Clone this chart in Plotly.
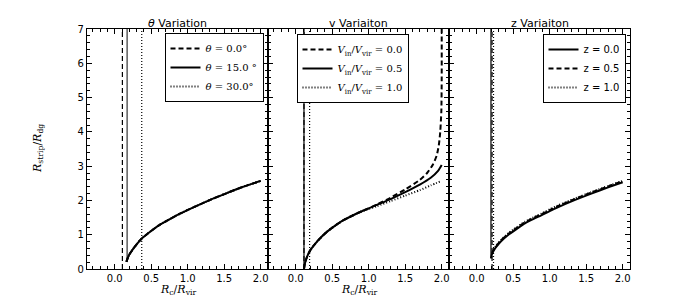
import plotly.graph_objects as go

# ---------------- data ----------------
# Panel 1: theta variation
theta_labels = ["<i>θ</i> = 0.0°", "<i>θ</i> = 15.0 °", "<i>θ</i> = 30.0°"]
theta_vline_x = [0.105, 0.17, 0.37]
theta_vline_bottom = [0.0, 0.21, 0.0]
theta_curve_x = [0.16, 0.18, 0.2, 0.25, 0.3, 0.37, 0.45, 0.53, 0.61, 0.75, 0.9, 1.07, 1.3, 1.52, 1.75, 2.0]
theta_curve_y = [0.21, 0.33, 0.42, 0.58, 0.72, 0.89, 1.03, 1.16, 1.28, 1.45, 1.62, 1.79, 2.01, 2.2, 2.39, 2.57]

# Panel 2: velocity variation
v_labels = ["<i>V</i><sub>in</sub>/<i>V</i><sub>vir</sub> = 0.0",
            "<i>V</i><sub>in</sub>/<i>V</i><sub>vir</sub> = 0.5",
            "<i>V</i><sub>in</sub>/<i>V</i><sub>vir</sub> = 1.0"]
v_vline_x = [0.113, 0.113, 0.19]
v0_x = [0.113, 0.13, 0.16, 0.2, 0.3, 0.43, 0.55, 0.66, 0.78, 0.89, 1.0, 1.11, 1.3, 1.5, 1.7, 1.8, 1.88, 1.93, 1.96, 1.98, 1.995, 2.0, 2.0]
v0_y = [0.0, 0.2, 0.38, 0.55, 0.82, 1.09, 1.28, 1.43, 1.56, 1.67, 1.77, 1.88, 2.08, 2.32, 2.6, 2.8, 3.05, 3.3, 3.6, 4.0, 4.6, 5.5, 7.2]
v05_x = [0.113, 0.13, 0.16, 0.2, 0.3, 0.43, 0.55, 0.66, 0.78, 0.89, 1.0, 1.11, 1.3, 1.5, 1.7, 1.85, 1.95, 2.0]
v05_y = [0.0, 0.2, 0.38, 0.55, 0.82, 1.09, 1.28, 1.43, 1.56, 1.67, 1.77, 1.87, 2.04, 2.24, 2.46, 2.66, 2.86, 3.03]
v1_x = [0.19, 0.2, 0.3, 0.43, 0.55, 0.66, 0.78, 0.89, 1.0, 1.11, 1.3, 1.5, 1.7, 1.85, 2.0]
v1_y = [0.5, 0.55, 0.82, 1.09, 1.28, 1.43, 1.56, 1.67, 1.75, 1.83, 1.98, 2.14, 2.3, 2.44, 2.57]

# Panel 3: redshift variation
z_labels = ["z = 0.0", "z = 0.5", "z = 1.0"]
z_vline_x = [0.195, 0.21, 0.23]
z0_x = [0.195, 0.21, 0.24, 0.27, 0.33, 0.43, 0.55, 0.66, 0.78, 0.89, 1.0, 1.11, 1.34, 1.57, 1.8, 2.0]
z0_y = [0.31, 0.44, 0.56, 0.65, 0.8, 0.99, 1.17, 1.33, 1.46, 1.57, 1.69, 1.8, 2.01, 2.2, 2.38, 2.53]
z05_x = [0.21, 0.24, 0.27, 0.33, 0.43, 0.55, 0.66, 0.78, 0.89, 1.0, 1.11, 1.34, 1.57, 1.8, 2.0]
z05_y = [0.47, 0.59, 0.68, 0.83, 1.02, 1.2, 1.36, 1.49, 1.6, 1.72, 1.83, 2.04, 2.23, 2.41, 2.56]
z1_x = [0.23, 0.27, 0.33, 0.43, 0.55, 0.66, 0.78, 0.89, 1.0, 1.11, 1.34, 1.57, 1.8, 2.0]
z1_y = [0.56, 0.69, 0.84, 1.04, 1.22, 1.38, 1.51, 1.62, 1.74, 1.85, 2.05, 2.24, 2.42, 2.57]

titles = ["<i>θ</i> Variation", "v Variaiton", "z Variaiton"]
x_ticks = [0.0, 0.5, 1.0, 1.5, 2.0]
y_ticks = [0, 1, 2, 3, 4, 5, 6, 7]
Y_TOP = 7.2

# ---------------- styles ----------------
DASH = "5px,3px"
DOT = "1px,2px"
SOLID = "solid"

fig = go.Figure()

def add_curve(x, y, dash, name, xa, ya, legend, show=True, width=2, color="black", rank=None):
    fig.add_trace(go.Scatter(x=x, y=y, mode="lines", name=name,
                             line=dict(color=color, width=width, dash=dash, shape="spline", smoothing=0.6),
                             xaxis=xa, yaxis=ya, legend=legend, showlegend=show,
                             legendrank=rank if rank is not None else 1000))

def add_vline(xv, y0, dash, xa, ya, color="black", width=1.2):
    fig.add_trace(go.Scatter(x=[xv, xv], y=[y0, Y_TOP], mode="lines",
                             line=dict(color=color, width=width, dash=dash),
                             xaxis=xa, yaxis=ya, showlegend=False, hoverinfo="skip"))

# Panel 1
styles1 = [DASH, SOLID, DOT]
for i in range(3):
    add_vline(theta_vline_x[i], theta_vline_bottom[i], styles1[i], "x", "y",
              color="#666666" if i == 1 else "black", width=1.6 if i == 1 else 1.2)
for i in [0, 2, 1]:
    add_curve(theta_curve_x, theta_curve_y, styles1[i], theta_labels[i], "x", "y", "legend", rank=i + 1)

# Panel 2
styles2 = [DASH, SOLID, DOT]
for i in range(3):
    add_vline(v_vline_x[i], 0.0, styles2[i], "x2", "y2")
add_curve(v1_x, v1_y, DOT, v_labels[2], "x2", "y2", "legend2", rank=3)
add_curve(v0_x, v0_y, DASH, v_labels[0], "x2", "y2", "legend2", rank=1)
add_curve(v05_x, v05_y, SOLID, v_labels[1], "x2", "y2", "legend2", rank=2)

# Panel 3
add_vline(z_vline_x[0], z0_y[0], SOLID, "x3", "y3")
add_vline(z_vline_x[1], 0.0, DASH, "x3", "y3")
add_vline(z_vline_x[2], 0.0, DOT, "x3", "y3")
add_curve(z1_x, z1_y, DOT, z_labels[2], "x3", "y3", "legend3", rank=3)
add_curve(z05_x, z05_y, DASH, z_labels[1], "x3", "y3", "legend3", rank=2)
add_curve(z0_x, z0_y, SOLID, z_labels[0], "x3", "y3", "legend3", rank=1)

# ---------------- layout ----------------
# the page body adds an 8px offset; work in window pixels and convert
OFF = 8
W, H = 692, 292
PL, PR, PT, PB = 87, 630, 29, 269          # plot area in window pixels
L, T = PL - OFF, PT - OFF
R = W - (PR - OFF)
B = H - (PB - OFF)
PW, PH = PR - PL, PB - PT

def px_x(p):
    return (p - PL) / PW

def px_y(p):
    return (PB - p) / PH

tickfont = dict(family="DejaVu Sans", size=10, color="black")
xcommon = dict(range=[-0.38, 2.1], tickmode="array", tickvals=x_ticks, ticktext=[f"{v:.1f}" for v in x_ticks],
               ticks="inside", ticklen=5, tickwidth=1, tickcolor="black",
               mirror="allticks", showline=True, linecolor="black", linewidth=1.2,
               showgrid=False, zeroline=False, tickfont=tickfont,
               minor=dict(ticks="inside", ticklen=2.5, tickwidth=1, tickcolor="black",
                          dtick=0.1, tick0=0, showgrid=False))
ycommon = dict(range=[0, 7], tickmode="array", tickvals=y_ticks,
               ticks="inside", ticklen=5, tickwidth=1, tickcolor="black",
               mirror="allticks", showline=True, linecolor="black", linewidth=1.2,
               showgrid=False, zeroline=False, tickfont=tickfont,
               minor=dict(ticks="inside", ticklen=2.5, tickwidth=1, tickcolor="black",
                          dtick=0.2, tick0=0, showgrid=False))

fig.update_layout(
    width=W, height=H, margin=dict(l=L, r=R, t=T, b=B),
    paper_bgcolor="white", plot_bgcolor="white",
    font=dict(family="DejaVu Sans", size=10, color="black"),
    xaxis=dict(domain=[0, 1 / 3], anchor="y", **xcommon),
    xaxis2=dict(domain=[1 / 3, 2 / 3], anchor="y2", **xcommon),
    xaxis3=dict(domain=[2 / 3, 1], anchor="y3", **xcommon),
    yaxis=dict(anchor="x", **ycommon),
    yaxis2=dict(anchor="x2", showticklabels=False, **ycommon),
    yaxis3=dict(anchor="x3", showticklabels=False, **ycommon),
)

legend_common = dict(bgcolor="white", bordercolor="black", borderwidth=1,
                     font=dict(family="DejaVu Serif", size=10, color="black"),
                     xanchor="right", yanchor="top", tracegroupgap=0, itemwidth=30,
                     traceorder="normal")
fig.update_layout(
    legend=dict(x=px_x(263.5), y=px_y(33), **legend_common),
    legend2=dict(x=px_x(408.5), y=px_y(34), **legend_common),
    legend3=dict(x=px_x(625.5), y=px_y(34), **{**legend_common,
                 "font": dict(family="DejaVu Sans", size=10, color="black")}),
)

# panel titles
centers = [177.5, 358.5, 539.5]
for c, t in zip(centers, titles):
    fig.add_annotation(x=px_x(c), y=px_y(23), xref="paper", yref="paper", text=t,
                       showarrow=False, font=dict(family="DejaVu Sans", size=11, color="black"),
                       xanchor="center", yanchor="middle")

# x-axis labels (panels 1 and 2)
xlabel = "<i>R</i><sub>c</sub>/<i>R</i><sub>vir</sub>"
for c in centers[:2]:
    fig.add_annotation(x=px_x(c), y=px_y(290), xref="paper", yref="paper", text=xlabel,
                       showarrow=False, font=dict(family="DejaVu Serif", size=11, color="black"),
                       xanchor="center", yanchor="middle")

# y-axis label
fig.add_annotation(x=px_x(38), y=px_y(149), xref="paper", yref="paper",
                   text="<i>R</i><sub>strip</sub>/<i>R</i><sub>dg</sub>", textangle=-90,
                   showarrow=False, font=dict(family="DejaVu Serif", size=11, color="black"),
                   xanchor="center", yanchor="middle")

fig.write_html("out.html")
